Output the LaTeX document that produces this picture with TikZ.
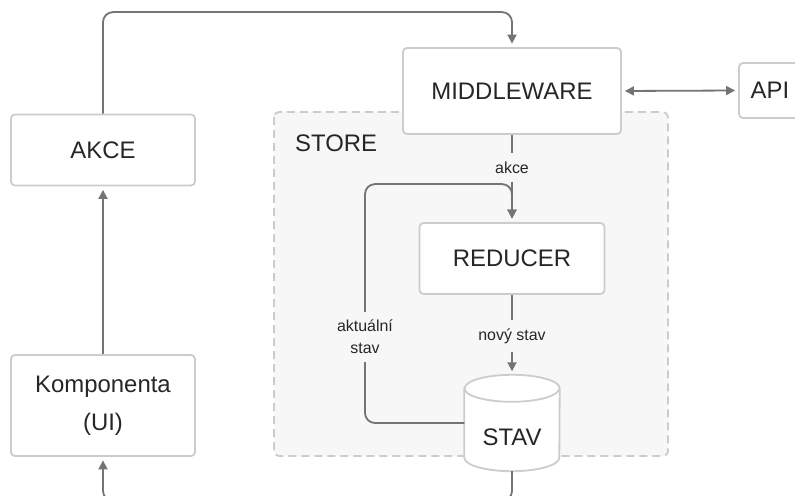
\documentclass[tikz,border=0pt]{standalone}
\usepackage{fontspec}
\setmainfont{Liberation Sans}
\usetikzlibrary{arrows.meta,calc}
\definecolor{linegray}{HTML}{747474}
\definecolor{boxgray}{HTML}{CCCCCC}
\definecolor{storefill}{HTML}{F7F7F7}
\definecolor{txt}{HTML}{262626}
\begin{document}
\begin{tikzpicture}[x=1bp,y=1bp,
  bigfont/.style={font=\fontsize{24}{28}\selectfont},
  box/.style={draw=boxgray,line width=1.8bp,fill=white,rounded corners=4bp,
              inner sep=0pt,text=txt,bigfont},
  lbl/.style={text=txt,font=\fontsize{16}{22}\selectfont,inner sep=8bp,align=center},
  conn/.style={draw=linegray,line width=1.8bp,rounded corners=10bp},
  tip/.style={Triangle[length=9bp,width=9bp]},
  arr/.style={conn,-{Triangle[length=9bp,width=9bp]},shorten >=3.5bp},
  dblarr/.style={conn,{Triangle[length=9bp,width=9bp]}-{Triangle[length=9bp,width=9bp]},
                 shorten >=3bp,shorten <=3bp},
]
\useasboundingbox (0,0) rectangle (795,-496);
\clip (0,0) rectangle (795,-496);
\fill[white] (0,0) rectangle (795,-496);

% store container
\draw[draw=boxgray,fill=storefill,line width=1.8bp,dash pattern=on 8bp off 5bp,
      rounded corners=5bp] (274,-112) rectangle (668,-456);
\node[anchor=west,inner sep=0pt,text=txt,bigfont] (store) at (295,-143) {STORE};

% boxes
\node[box,minimum width=184bp,minimum height=71bp] (akce) at (103,-150) {AKCE};
\node[box,minimum width=184bp,minimum height=101bp,align=center,
      font=\fontsize{24}{38}\selectfont] (komp) at (103,-405.5) {Komponenta\\(UI)};
\node[box,minimum width=218bp,minimum height=86bp] (mw) at (512,-91) {MIDDLEWARE};
\node[box,minimum width=62bp,minimum height=55bp] (api) at (770,-90.5) {API};
\node[box,minimum width=185bp,minimum height=71bp] (red) at (512,-258.5) {REDUCER};

% state store drawn as a cylinder
\node[minimum width=95bp,minimum height=96bp,inner sep=0pt] (stav) at (512,-423) {};
\draw[draw=boxgray,fill=white,line width=1.8bp]
  ($(stav.north west)+(0,-13.5)$) -- ($(stav.south west)+(0,13.5)$)
  arc[start angle=180,end angle=360,x radius=47.5,y radius=13.5]
  -- ($(stav.north east)+(0,-13.5)$)
  arc[start angle=0,end angle=180,x radius=47.5,y radius=13.5] -- cycle;
\draw[draw=boxgray,line width=1.8bp] ($(stav.north west)+(0,-13.5)$)
  arc[start angle=180,end angle=360,x radius=47.5,y radius=13.5];
\node[inner sep=0pt,text=txt,bigfont] (stavtext) at ($(stav.center)+(0,-14)$) {STAV};

% edge labels
\node[lbl] (lakce) at (512,-167.5) {akce};
\node[lbl] (lnovy) at (512,-336) {nový stav};
\node[lbl] (lakt) at (365,-337) {aktuální\\stav};

% connectors
\draw[arr] (komp.north) -- (akce.south);
\draw[arr] (akce.north) |- ($(mw.north)+(0,35)$) -- (mw.north);
\draw[dblarr] (mw.east) -- (api.west);
\draw[conn] (mw.south) -- (lakce.north);
\draw[arr] (lakce.south) -- (red.north);
\draw[conn] (stav.west) -| (lakt.south);
\draw[arr] (lakt.north) |- ($(red.north)+(0,38)$) -- (red.north);
\draw[conn] (red.south) -- (lnovy.north);
\draw[arr] (lnovy.south) -- (stav.north);
\draw[arr] (stav.south) |- ($(komp.south)+(0,-44)$) -- (komp.south);
\end{tikzpicture}
\end{document}
